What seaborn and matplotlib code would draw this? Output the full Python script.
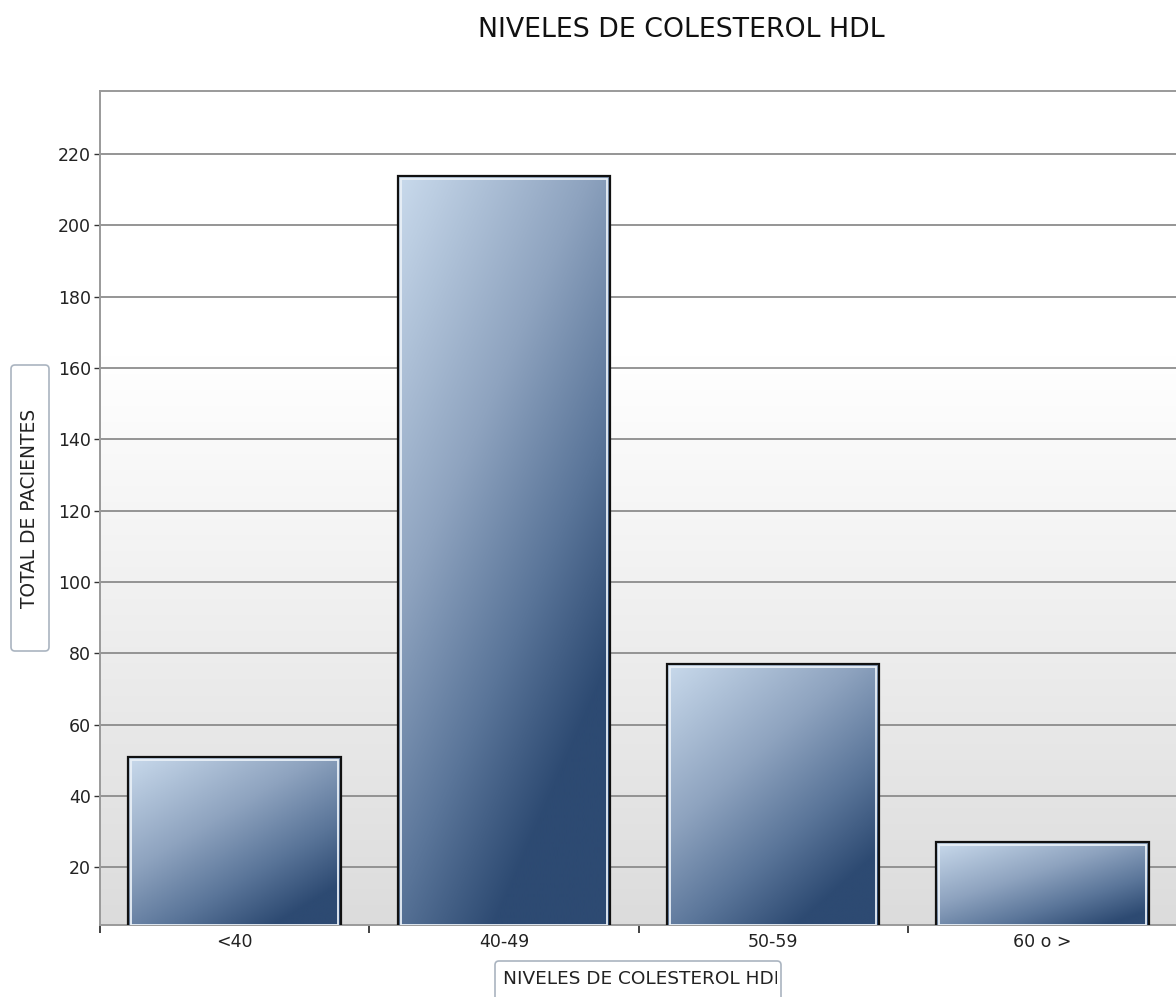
import numpy as np
import pandas as pd
import matplotlib
matplotlib.use("Agg")
import matplotlib.pyplot as plt
import seaborn as sns
from matplotlib.patches import Rectangle, FancyBboxPatch
from matplotlib.transforms import Bbox
from matplotlib.colors import LinearSegmentedColormap

# --- data ---------------------------------------------------------------
categories = ["<40", "40-49", "50-59", "60 o >"]
patients = [51, 214, 77, 27]
y_ticks = [20, 40, 60, 80, 100, 120, 140, 160, 180, 200, 220]

title = "NIVELES DE COLESTEROL HDL"
y_title = "TOTAL DE PACIENTES"
x_title = "NIVELES DE COLESTEROL HDL"

# --- figure -------------------------------------------------------------
sns.set_theme(style="white")
plt.rcParams["font.family"] = ["DejaVu Sans"]

W, H, DPI = 1176, 997, 100
fig = plt.figure(figsize=(W / DPI, H / DPI), dpi=DPI)
fig.patch.set_facecolor("white")

ax_l, ax_r, ax_t, ax_b = 100, 1177, 91, 925
ax = fig.add_axes([ax_l / W, (H - ax_b) / H, (ax_r - ax_l) / W, (ax_b - ax_t) / H])

df = pd.DataFrame({"nivel": categories, "total": patients})
sns.barplot(data=df, x="nivel", y="total", ax=ax, width=0.79,
            color="#2e4b73", edgecolor="#111111", linewidth=1.6,
            saturation=1)

ymin, ymax = 3.8, 237.7
xmin, xmax = -0.5, len(categories) - 0.5

# background: white at the top fading to light grey at the bottom
bg_rows = 400
f = np.linspace(0, 1, bg_rows)[:, None]   # 0 at top, 1 at bottom
shade = np.where(f < 0.32, 1.0, 1.0 - (f - 0.32) / 0.68 * (1 - 0.862))
bg = np.dstack([shade, shade, shade])
ax.imshow(bg, extent=(0, 1, 0, 1), transform=ax.transAxes,
          aspect="auto", zorder=0, interpolation="bilinear")

# gradient fill for each bar (light top-left -> dark bottom-right)
bar_cmap = LinearSegmentedColormap.from_list(
    "bar", [(0.0, "#c9daec"), (0.45, "#8ea3bf"), (0.75, "#5a7599"),
            (1.0, "#2d4a72")])
px_per_x = (ax_r - ax_l) / (xmax - xmin)
px_per_y = (ax_b - ax_t) / (ymax - ymin)

for patch in list(ax.patches):
    x0, w = patch.get_x(), patch.get_width()
    y0, h = patch.get_y(), patch.get_height()
    y0c = max(y0, ymin)
    nx = max(int(w * px_per_x), 2)
    ny = max(int((y0 + h - y0c) * px_per_y), 2)
    u = np.linspace(0, 1, nx)[None, :]
    v = np.linspace(0, 1, ny)[:, None]
    v_weight = 0.5 + 0.35 * ny / (nx + ny)
    t = np.clip(0.5 * u + v_weight * v, 0, 1)
    img = ax.imshow(t, cmap=bar_cmap, vmin=0, vmax=1,
                    extent=(x0, x0 + w, y0c, y0 + h), origin="upper",
                    aspect="auto", zorder=3, interpolation="bilinear")
    img.set_clip_path(patch)
    # thin light inner border
    ix = 3.0 / px_per_x
    iy = 3.0 / px_per_y
    ax.add_patch(Rectangle((x0 + ix, y0c), w - 2 * ix, y0 + h - iy - y0c,
                           fill=False, edgecolor="#e9f0f7", linewidth=1.3,
                           zorder=4))
    patch.set_facecolor("none")
    patch.set_zorder(5)

ax.set_xlim(xmin, xmax)
ax.set_ylim(ymin, ymax)

# grid and spines
ax.set_axisbelow(True)
ax.set_yticks(y_ticks)
ax.yaxis.grid(True, color="#8c8c8c", linewidth=1.3, zorder=1)
ax.xaxis.grid(False)
for side in ["left", "bottom", "top"]:
    ax.spines[side].set_visible(True)
    ax.spines[side].set_color("#9a9a9a")
    ax.spines[side].set_linewidth(1.4)
ax.spines["right"].set_visible(False)

ax.tick_params(axis="y", which="major", direction="out", length=4.5,
               width=1.0, color="#333333", labelsize=12.5,
               labelcolor="#222222", pad=2, left=True)

# category boundaries carry the tick marks, labels sit at the centres
ax.set_xticks(np.arange(-0.5, len(categories), 1.0))
ax.set_xticklabels([])
ax.set_xticks(np.arange(len(categories)), minor=True)
ax.set_xticklabels(categories, minor=True)
ax.tick_params(axis="x", which="major", direction="out", length=6,
               width=1.3, color="#333333", bottom=True)
ax.tick_params(axis="x", which="minor", length=0, labelsize=12.5,
               labelcolor="#222222", pad=6)
ax.set_xlabel("")
ax.set_ylabel("")

# title
fig.text(681 / W, 1 - 30 / H, title, ha="center", va="center",
         fontsize=19.3, color="#111111")

# boxed axis titles
box_kw = dict(boxstyle="round,pad=0,rounding_size=4", facecolor="white",
              edgecolor="#aab4c0", linewidth=1.2, transform=None)
ybox = FancyBboxPatch((11, H - 651), 38, 286, **box_kw)
xbox = FancyBboxPatch((495, H - 1010), 286, 49, **box_kw)
fig.patches.extend([ybox, xbox])

fig.text(30 / W, 1 - 508 / H, y_title, rotation=90, ha="center",
         va="center", fontsize=13.4, color="#222222")

# x title: the box is narrower than the text, so the last letter is cut
x_fs = 13.3
x_start = 503
renderer = fig.canvas.get_renderer()
probe = fig.text(0, 0, x_title[:-1], fontsize=x_fs)
prefix_w = probe.get_window_extent(renderer).width
probe.remove()
clip_right = min(x_start + prefix_w + 0.16 * x_fs * DPI / 72, 780)
xt = fig.text(x_start / W, 1 - 979 / H, x_title, ha="left", va="center",
              fontsize=x_fs, color="#222222")
xt.set_clip_box(Bbox.from_extents(495, 0, clip_right, H - 961))
xt.set_clip_on(True)

fig.savefig("out.png", dpi=DPI)
